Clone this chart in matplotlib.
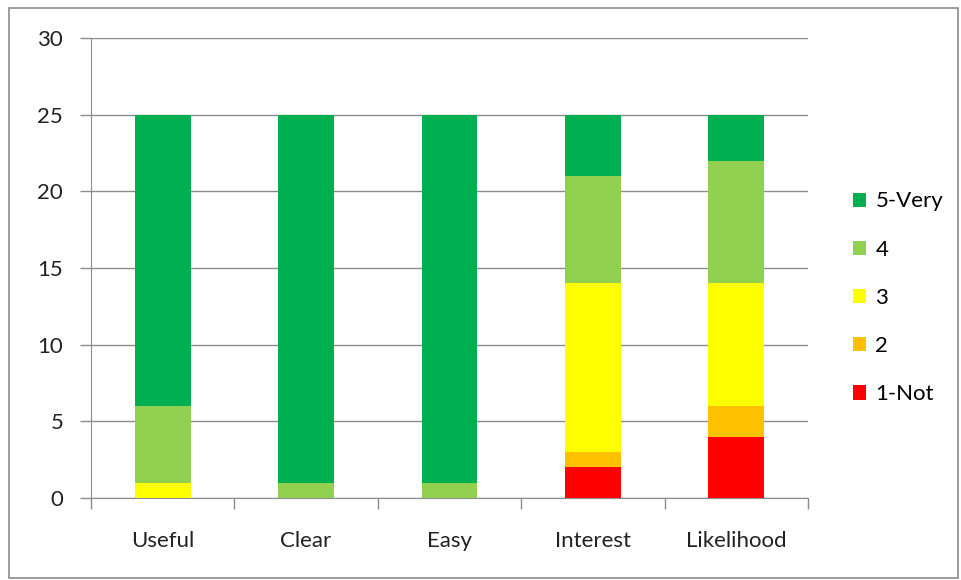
import matplotlib.pyplot as plt
from matplotlib.patches import Rectangle
import numpy as np

plt.rcParams['font.family'] = ['Lato', 'DejaVu Sans']

categories = ["Useful", "Clear", "Easy", "Interest", "Likelihood"]
levels = ["1-Not", "2", "3", "4", "5-Very"]
not_1 = [0, 0, 0, 2, 4]
two = [0, 0, 0, 1, 2]
three = [1, 0, 0, 11, 8]
four = [5, 1, 1, 7, 8]
very_5 = [19, 24, 24, 4, 3]
colors = ["#FF0000", "#FFC000", "#FFFF00", "#92D050", "#00B050"]

fig = plt.figure(figsize=(9.61, 5.8), dpi=100)
ax = fig.add_axes([0.0947, 0.1414, 0.7461, 0.7931])

x = np.arange(len(categories))
bottom = np.zeros(len(categories))
handles = []
for name, vals, c in zip(levels, [not_1, two, three, four, very_5], colors):
    h = ax.bar(x, vals, bottom=bottom, width=0.39, color=c, label=name, zorder=3)
    handles.append(h)
    bottom += np.array(vals)

ax.set_xlim(-0.5, len(categories) - 0.5)
ax.set_ylim(0, 30)
ax.set_yticks(range(0, 31, 5))
ax.grid(axis='y', color='#8c8c8c', linewidth=1, zorder=0)
ax.set_xticks(x)
ax.set_xticklabels(categories)
ax.set_xticks(np.arange(-0.5, len(categories), 1), minor=True)
ax.tick_params(axis='x', which='major', length=0, pad=24, labelsize=16, colors='#222222')
ax.tick_params(axis='x', which='minor', length=8, color='#8c8c8c', width=1)
ax.tick_params(axis='y', length=8, color='#8c8c8c', width=1, labelsize=16, pad=12, colors='#222222')
for lbl in ax.get_yticklabels():
    lbl.set_color('#222222')
for side in ['top', 'right']:
    ax.spines[side].set_visible(False)
for side in ['left', 'bottom']:
    ax.spines[side].set_color('#8c8c8c')

ax.legend(handles[::-1], levels[::-1], loc='center left', bbox_to_anchor=(1.035, 0.435),
          frameon=False, fontsize=16, handlelength=0.6, handleheight=0.6,
          handletextpad=0.4, labelspacing=1.27)

fig.patches.append(Rectangle((9 / 961, 2 / 580), 949 / 961, 570 / 580,
                             transform=fig.transFigure, fill=False,
                             edgecolor='#8c8c8c', linewidth=1.2))

plt.savefig("out.png", dpi=100)
